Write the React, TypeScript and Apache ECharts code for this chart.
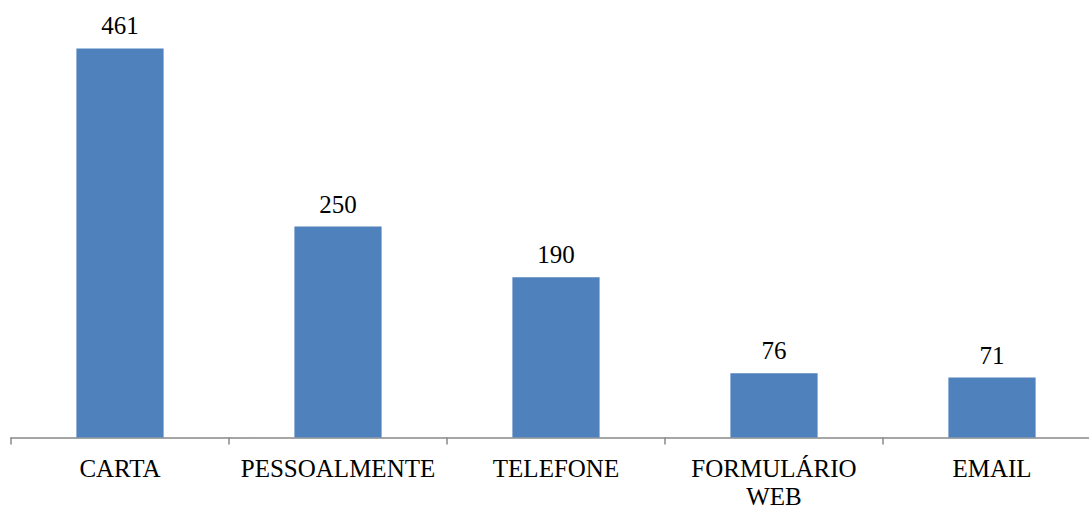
import React, { useEffect, useRef } from "react";
import * as echarts from "echarts";

const categories = ["CARTA", "PESSOALMENTE", "TELEFONE", "FORMULÁRIO\nWEB", "EMAIL"];
const values = [461, 250, 190, 76, 71];

const FONT = "Liberation Serif";

export default function App() {
  const ref = useRef<HTMLDivElement>(null);
  useEffect(() => {
    if (!ref.current) return;
    const chart = echarts.init(ref.current, undefined, { renderer: "svg" });
    chart.setOption({
      animation: false,
      textStyle: { fontFamily: FONT, fontSize: 25 },
      grid: { left: 11, right: 0, top: 15.5, bottom: 73.5, containLabel: false },
      xAxis: {
        type: "category",
        data: categories,
        axisLine: { lineStyle: { color: "#888888", width: 1.5 } },
        axisTick: { show: true, length: 7, lineStyle: { color: "#888888", width: 1.5 } },
        axisLabel: {
          color: "#000",
          fontFamily: FONT,
          fontSize: 25,
          lineHeight: 28,
          margin: 17,
          interval: 0,
          formatter: (v: string) => v.split("\n").map((s) => "{t|" + s + "}").join("\n"),
          rich: {
            t: { fontFamily: FONT, fontSize: 25, lineHeight: 28, color: "#000" },
          },
        },
      },
      yAxis: {
        type: "value",
        min: 0,
        max: 500,
        show: false,
        splitLine: { show: false },
      },
      series: [
        {
          type: "bar",
          data: values,
          barWidth: "40%",
          itemStyle: { color: "#4F81BD" },
          label: {
            show: true,
            position: "top",
            distance: 10,
            color: "#000",
            fontFamily: FONT,
            fontSize: 25,
            formatter: "{t|{c}}",
            rich: {
              t: { fontFamily: FONT, fontSize: 25, color: "#000" },
            },
          },
        },
      ],
    });
    return () => chart.dispose();
  }, []);
  return (
    <div style={{ position: "fixed", left: 0, top: 0, width: 1089, height: 511, overflow: "hidden", background: "#fff" }}>
      <div ref={ref} style={{ width: 1101, height: 511 }} />
    </div>
  );
}
